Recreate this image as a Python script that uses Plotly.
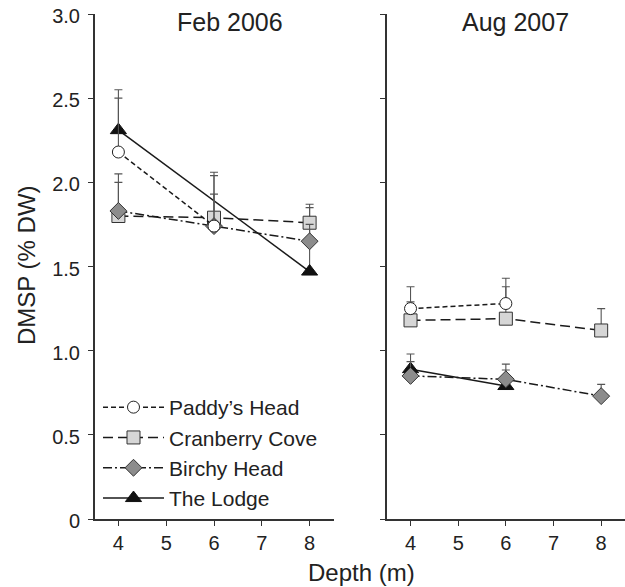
import plotly.graph_objects as go

# ---------------- data ----------------
depth = [4, 6, 8]

# Feb 2006
feb_paddy = [2.18, 1.74, None]
feb_paddy_err = [0.32, 0.30, 0]
feb_cran = [1.80, 1.79, 1.76]
feb_cran_err = [0.20, 0.27, 0.09]
feb_birchy = [1.83, 1.74, 1.65]
feb_birchy_err = [0.22, 0.19, 0.10]
feb_lodge_depth = [4, 8]
feb_lodge = [2.31, 1.47]
feb_lodge_err = [0.24, 0.40]

# Aug 2007
aug_paddy = [1.25, 1.28, None]
aug_paddy_err = [0.13, 0.15, 0]
aug_cran = [1.18, 1.19, 1.12]
aug_cran_err = [0.11, 0.19, 0.13]
aug_birchy = [0.85, 0.83, 0.73]
aug_birchy_err = [0.085, 0.055, 0.07]
aug_lodge_depth = [4, 6]
aug_lodge = [0.89, 0.79]
aug_lodge_err = [0.09, 0.13]

y_ticks = [0, 0.5, 1.0, 1.5, 2.0, 2.5, 3.0]
y_ticktext = ["0", "0.5", "1.0", "1.5", "2.0", "2.5", "3.0"]
x_ticks = [4, 5, 6, 7, 8]

# ---------------- styles ----------------
FONT = "Liberation Sans, Arial, Helvetica, sans-serif"
TXT = "#222222"
LINE = "#1a1a1a"
ERR = "#555555"

styles = {
    "paddy": dict(name="Paddy\u2019s Head", dash="5px,3px",
                  marker=dict(symbol="circle", size=12, color="white",
                              line=dict(color="#222", width=1)), rank=1),
    "cran": dict(name="Cranberry Cove", dash="10px,5px",
                 marker=dict(symbol="square", size=13, color="#d6d6d6",
                             line=dict(color="#333", width=1)), rank=2),
    "birchy": dict(name="Birchy Head", dash="9px,3px,2px,3px",
                   marker=dict(symbol="diamond", size=13, color="#8c8c8c",
                               line=dict(color="#333", width=1)), rank=3),
    "lodge": dict(name="The Lodge", dash="solid",
                  marker=dict(symbol="triangle-up", size=14, color="#111",
                              line=dict(color="#111", width=1)), rank=4),
}

fig = go.Figure()


def add(key, x, y, err, xa, ya, show):
    s = styles[key]
    fig.add_trace(go.Scatter(
        x=x, y=y, mode="lines+markers", name=s["name"],
        line=dict(color=LINE, width=1.5, dash=s["dash"]),
        marker=s["marker"],
        error_y=dict(type="data", symmetric=False, array=err,
                     arrayminus=[0] * len(err), color=ERR,
                     thickness=1.1, width=4),
        xaxis=xa, yaxis=ya, showlegend=show, legendrank=s["rank"],
        connectgaps=False,
    ))


# drawing order: lodge, cranberry, birchy, paddy
add("lodge", feb_lodge_depth, feb_lodge, feb_lodge_err, "x", "y", True)
add("cran", depth, feb_cran, feb_cran_err, "x", "y", True)
add("birchy", depth, feb_birchy, feb_birchy_err, "x", "y", True)
add("paddy", depth, feb_paddy, feb_paddy_err, "x", "y", True)

add("lodge", aug_lodge_depth, aug_lodge, aug_lodge_err, "x2", "y2", False)
add("cran", depth, aug_cran, aug_cran_err, "x2", "y2", False)
add("birchy", depth, aug_birchy, aug_birchy_err, "x2", "y2", False)
add("paddy", depth, aug_paddy, aug_paddy_err, "x2", "y2", False)

# the page body margin is removed (post_script below), so the figure
# fills the whole 625x587 window
W, H = 625, 587
T, B = 14, 587 - 519
ph = H - T - B
Y0 = 519  # pixel row of y=0


def px_x(x):
    return x / W


def px_y(y):
    return (Y0 - y) / ph


xcommon = dict(range=[3.5, 8.5], tickvals=x_ticks, ticks="outside", ticklen=5,
               tickcolor="#333", tickwidth=1, showline=True, linecolor="#333",
               linewidth=1.5, showgrid=False, zeroline=False,
               tickfont=dict(family=FONT, size=20, color=TXT),
               ticklabeloverflow="allow", fixedrange=True)
ycommon = dict(range=[0, 3], tickvals=y_ticks, ticks="outside", ticklen=5,
               tickcolor="#333", tickwidth=1, showline=True, linecolor="#333",
               linewidth=1.5, showgrid=False, zeroline=False,
               tickfont=dict(family=FONT, size=20, color=TXT),
               ticklabeloverflow="allow", fixedrange=True)

fig.update_layout(
    width=W, height=H,
    margin=dict(l=0, r=0, t=T, b=B, autoexpand=False),
    paper_bgcolor="white", plot_bgcolor="white",
    font=dict(family=FONT, color=TXT),
    hovermode=False,
    xaxis=dict(domain=[px_x(94.5), px_x(333.5)], anchor="y", **xcommon),
    xaxis2=dict(domain=[px_x(386.7), 1.0], anchor="y2", **xcommon),
    yaxis=dict(domain=[0, 1], anchor="x", ticktext=y_ticktext,
               ticklabelstandoff=4, ticklabelshift=2, **ycommon),
    yaxis2=dict(domain=[0, 1], anchor="x2", showticklabels=False, **ycommon),
    legend=dict(x=px_x(98), xanchor="left", y=px_y(519), yanchor="bottom",
                bgcolor="rgba(0,0,0,0)", borderwidth=0,
                font=dict(family=FONT, size=21, color=TXT),
                tracegroupgap=0, itemwidth=61, traceorder="normal"),
    annotations=[
        dict(text="Feb 2006", x=px_x(230), y=px_y(22), xref="paper",
             yref="paper", showarrow=False, xanchor="center", yanchor="middle",
             font=dict(family=FONT, size=25, color=TXT)),
        dict(text="Aug 2007", x=px_x(515), y=px_y(22), xref="paper",
             yref="paper", showarrow=False, xanchor="center", yanchor="middle",
             font=dict(family=FONT, size=25, color=TXT)),
        dict(text="DMSP (% DW)", x=px_x(26), y=px_y(265), xref="paper",
             yref="paper", showarrow=False, textangle=-90, xanchor="center",
             yanchor="middle", font=dict(family=FONT, size=24, color=TXT)),
        dict(text="Depth (m)", x=px_x(361), y=px_y(572), xref="paper",
             yref="paper", showarrow=False, xanchor="center", yanchor="middle",
             font=dict(family=FONT, size=24, color=TXT)),
    ],
)

fig.write_html(
    "out.html",
    config={"displayModeBar": False, "staticPlot": True},
    post_script="document.body.style.margin='0';"
                "document.body.style.overflow='hidden';",
)
